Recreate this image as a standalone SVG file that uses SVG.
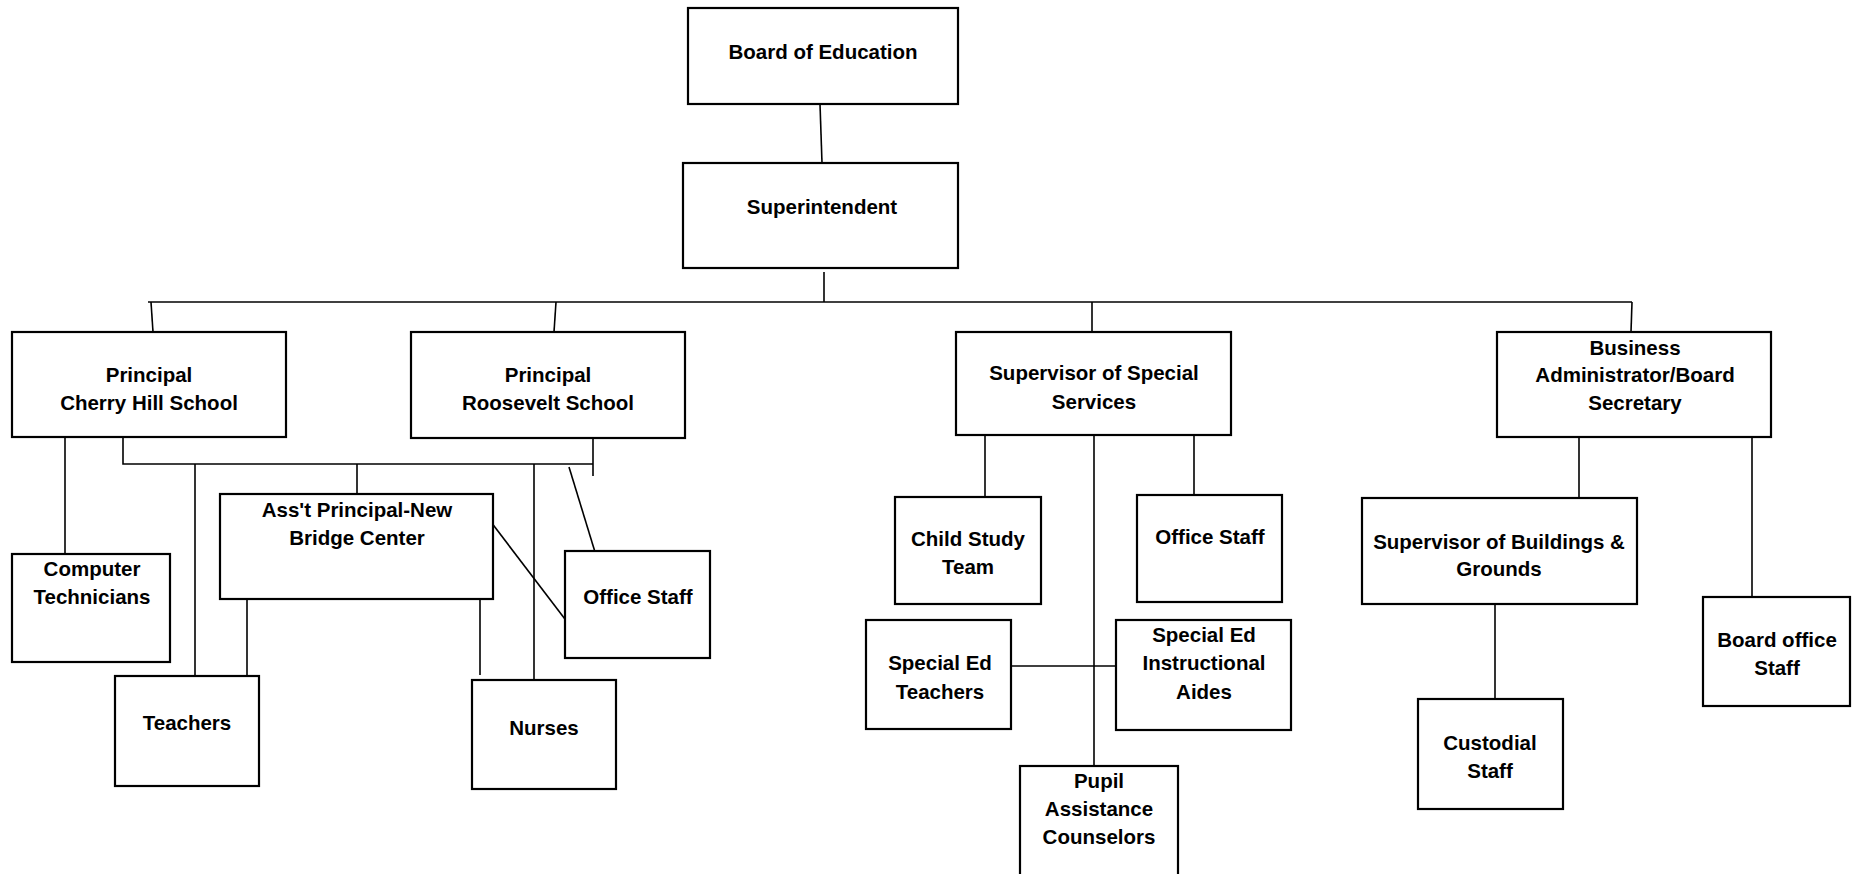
<svg xmlns="http://www.w3.org/2000/svg" width="1856" height="874" viewBox="0 0 1856 874">
<style>
.box{fill:#fff;stroke:#000;stroke-width:2.2}
.t{font-family:"Liberation Sans",Arial,sans-serif;font-weight:bold;font-size:20.5px;fill:#000;text-anchor:middle}
.c{stroke:#000;stroke-width:1.6;fill:none}
</style>
<rect width="1856" height="874" fill="#fff"/>
<g id="connectors">
<line class="c" x1="820" y1="104" x2="822" y2="163"/>
<line class="c" x1="824" y1="272" x2="824" y2="302"/>
<line class="c" x1="148" y1="302" x2="1632" y2="302"/>
<line class="c" x1="151" y1="302" x2="153" y2="332"/>
<line class="c" x1="556" y1="302" x2="554" y2="332"/>
<line class="c" x1="1092" y1="302" x2="1092" y2="332"/>
<line class="c" x1="1632" y1="302" x2="1631" y2="332"/>
<line class="c" x1="65" y1="437" x2="65" y2="554"/>
<polyline class="c" points="123,437 123,464 593,464"/>
<line class="c" x1="593" y1="438" x2="593" y2="476"/>
<line class="c" x1="195" y1="464" x2="195" y2="683"/>
<line class="c" x1="357" y1="464" x2="357" y2="494"/>
<line class="c" x1="534" y1="464" x2="534" y2="680"/>
<line class="c" x1="569" y1="467" x2="595" y2="552"/>
<line class="c" x1="491" y1="522" x2="571" y2="627"/>
<line class="c" x1="247" y1="599" x2="247" y2="676"/>
<line class="c" x1="480" y1="599" x2="480" y2="675"/>
<line class="c" x1="985" y1="435" x2="985" y2="497"/>
<line class="c" x1="1094" y1="435" x2="1094" y2="766"/>
<line class="c" x1="1194" y1="435" x2="1194" y2="495"/>
<line class="c" x1="1011" y1="666" x2="1116" y2="666"/>
<line class="c" x1="1579" y1="437" x2="1579" y2="498"/>
<line class="c" x1="1495" y1="604" x2="1495" y2="699"/>
<line class="c" x1="1752" y1="437" x2="1752" y2="597"/>
</g>
<g id="board">
<rect class="box" x="688" y="8" width="270" height="96"/>
<text class="t" x="823" y="59">Board of Education</text>
</g>
<g id="superintendent">
<rect class="box" x="683" y="163" width="275" height="105"/>
<text class="t" x="822" y="214">Superintendent</text>
</g>
<g id="principal-cherry">
<rect class="box" x="12" y="332" width="274" height="105"/>
<text class="t" x="149" y="382">Principal</text>
<text class="t" x="149" y="410">Cherry Hill School</text>
</g>
<g id="principal-roosevelt">
<rect class="box" x="411" y="332" width="274" height="106"/>
<text class="t" x="548" y="382">Principal</text>
<text class="t" x="548" y="410">Roosevelt School</text>
</g>
<g id="supervisor-special">
<rect class="box" x="956" y="332" width="275" height="103"/>
<text class="t" x="1094" y="380">Supervisor of Special</text>
<text class="t" x="1094" y="409">Services</text>
</g>
<g id="business-admin">
<rect class="box" x="1497" y="332" width="274" height="105"/>
<text class="t" x="1635" y="355">Business</text>
<text class="t" x="1635" y="382">Administrator/Board</text>
<text class="t" x="1635" y="410">Secretary</text>
</g>
<g id="computer-tech">
<rect class="box" x="12" y="554" width="158" height="108"/>
<text class="t" x="92" y="576">Computer</text>
<text class="t" x="92" y="604">Technicians</text>
</g>
<g id="asst-principal">
<rect class="box" x="220" y="494" width="273" height="105"/>
<text class="t" x="357" y="517">Ass't Principal-New</text>
<text class="t" x="357" y="545">Bridge Center</text>
</g>
<g id="office-staff-1">
<rect class="box" x="565" y="551" width="145" height="107"/>
<text class="t" x="638" y="604">Office Staff</text>
</g>
<g id="teachers">
<rect class="box" x="115" y="676" width="144" height="110"/>
<text class="t" x="187" y="730">Teachers</text>
</g>
<g id="nurses">
<rect class="box" x="472" y="680" width="144" height="109"/>
<text class="t" x="544" y="735">Nurses</text>
</g>
<g id="child-study">
<rect class="box" x="895" y="497" width="146" height="107"/>
<text class="t" x="968" y="546">Child Study</text>
<text class="t" x="968" y="574">Team</text>
</g>
<g id="office-staff-2">
<rect class="box" x="1137" y="495" width="145" height="107"/>
<text class="t" x="1210" y="544">Office Staff</text>
</g>
<g id="sped-teachers">
<rect class="box" x="866" y="620" width="145" height="109"/>
<text class="t" x="940" y="670">Special Ed</text>
<text class="t" x="940" y="699">Teachers</text>
</g>
<g id="sped-aides">
<rect class="box" x="1116" y="620" width="175" height="110"/>
<text class="t" x="1204" y="642">Special Ed</text>
<text class="t" x="1204" y="670">Instructional</text>
<text class="t" x="1204" y="699">Aides</text>
</g>
<g id="pupil-assistance">
<rect class="box" x="1020" y="766" width="158" height="112"/>
<text class="t" x="1099" y="788">Pupil</text>
<text class="t" x="1099" y="816">Assistance</text>
<text class="t" x="1099" y="844">Counselors</text>
</g>
<g id="supervisor-buildings">
<rect class="box" x="1362" y="498" width="275" height="106"/>
<text class="t" x="1499" y="549">Supervisor of Buildings &amp;</text>
<text class="t" x="1499" y="576">Grounds</text>
</g>
<g id="custodial">
<rect class="box" x="1418" y="699" width="145" height="110"/>
<text class="t" x="1490" y="750">Custodial</text>
<text class="t" x="1490" y="778">Staff</text>
</g>
<g id="board-office">
<rect class="box" x="1703" y="597" width="147" height="109"/>
<text class="t" x="1777" y="647">Board office</text>
<text class="t" x="1777" y="675">Staff</text>
</g>
</svg>
